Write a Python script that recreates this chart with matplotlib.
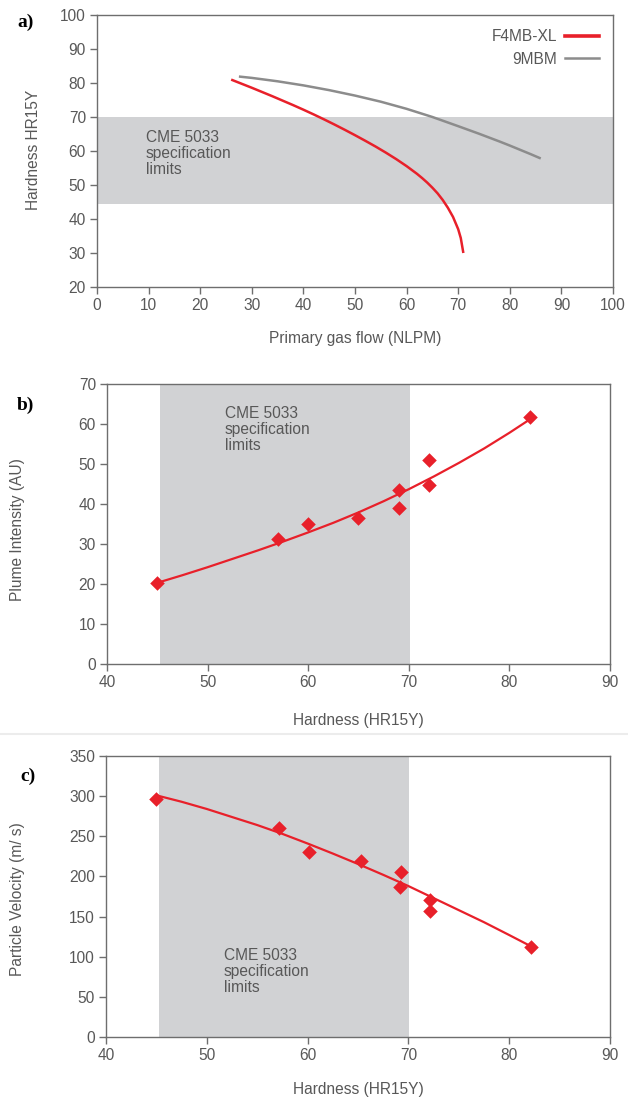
import matplotlib
matplotlib.use("Agg")
import matplotlib.pyplot as plt
from matplotlib.lines import Line2D

plt.rcParams['font.family'] = ['Liberation Sans', 'DejaVu Sans']

# Panel a data
f4_flow = [26, 28, 30, 32, 34, 36, 38, 40, 42, 44, 46, 48, 50, 52, 54, 56, 58,
           60, 62, 63, 64, 65, 66, 67, 68, 69, 70, 70.5, 71]
f4_hard = [81.0, 79.8, 78.6, 77.35, 76.1, 74.8, 73.5, 72.15, 70.75, 69.3, 67.8,
           66.25, 64.65, 63.0, 61.3, 59.5, 57.6, 55.55, 53.3, 52.05, 50.7, 49.2,
           47.55, 45.6, 43.3, 40.6, 37.0, 34.4, 30.0]
m9_flow = [27.5, 30, 35, 40, 45, 50, 55, 60, 65, 70, 72, 74, 76, 78, 80, 82,
           84, 86]
m9_hard = [81.9, 81.5, 80.5, 79.3, 77.9, 76.3, 74.5, 72.4, 70.0, 67.3, 66.2,
           65.1, 63.95, 62.8, 61.6, 60.35, 59.1, 57.8]
band_a = (44.3, 70)

# Panel b data
b_x = [45, 57, 60, 65, 69, 69, 72, 72, 82]
b_y = [20.2, 31.2, 35, 36.4, 43.6, 38.9, 51, 44.8, 61.7]
b_fit_x = [45, 47.5, 50, 52.5, 55, 57.5, 60, 62.5, 65, 67.5, 70, 72.5, 75,
           77.5, 80, 82]
b_fit_y = [20.3, 22.2, 24.2, 26.3, 28.4, 30.6, 32.9, 35.3, 37.9, 40.7, 43.7,
           46.9, 50.3, 53.9, 57.8, 61.1]

# Panel c data
c_x = [45, 57.2, 60.1, 65.3, 69.2, 69.3, 72.1, 72.1, 82.2]
c_y = [296, 260, 231, 219, 187, 206, 171, 157, 112]
c_fit_x = [45, 47.5, 50, 52.5, 55, 57.5, 60, 62.5, 65, 67.5, 70, 72.5, 75,
           77.5, 80, 82]
c_fit_y = [301, 293, 284, 274, 264, 253, 241, 228.5, 215.5, 202, 188, 173,
           158, 143, 127, 114]
band_bc = (45.3, 70.1)

spec_text = "CME 5033\nspecification\nlimits"
RED = '#e8202a'
GRAY_LINE = '#8c8c8c'
BAND = '#d1d2d4'
TXT = '#585858'
SPINE = '#6e6e6e'
FS = 11.2

fig = plt.figure(figsize=(6.28, 10.99), dpi=100)
W, H = 628, 1099

def add_ax(l, t, r, b):
    return fig.add_axes([l / W, 1 - b / H, (r - l) / W, (b - t) / H])

def style(ax):
    for s in ax.spines.values():
        s.set_color(SPINE)
        s.set_linewidth(1.0)
    ax.tick_params(direction='out', length=5, width=1, color=SPINE,
                   labelcolor=TXT, labelsize=FS, pad=3)

# ---- panel a
axa = add_ax(97, 15, 613, 287)
style(axa)
axa.axhspan(band_a[0], band_a[1], color=BAND, lw=0, zorder=0)
axa.plot(f4_flow, f4_hard, color=RED, lw=1.8, solid_capstyle='butt')
axa.plot(m9_flow, m9_hard, color=GRAY_LINE, lw=1.8, solid_capstyle='butt')
axa.set_xlim(0, 100)
axa.set_ylim(20, 100)
axa.set_xticks(range(0, 101, 10))
axa.set_yticks(range(20, 101, 10))
axa.set_xlabel("Primary gas flow (NLPM)", color=TXT, fontsize=FS)
axa.set_ylabel("Hardness HR15Y", color=TXT, fontsize=FS)
axa.xaxis.set_label_coords(0.501, -0.162)
axa.yaxis.set_label_coords(-0.109, 0.504)
axa.text(9.5, 66.3, spec_text, color=TXT, fontsize=FS, va='top', ha='left',
         linespacing=1.1)
handles = [Line2D([], [], color=RED, lw=2.6), Line2D([], [], color=GRAY_LINE, lw=1.8)]
axa.legend(handles, ["F4MB-XL", "9MBM"], loc='upper right', frameon=False,
           markerfirst=False, fontsize=FS, labelcolor=TXT, handlelength=2.2,
           borderaxespad=0.5, labelspacing=0.5, handletextpad=0.5)
fig.text(17 / W, 1 - 22 / H, "a)", family='Liberation Serif', weight='bold',
         fontsize=14, va='center', ha='left')

# ---- panel b
axb = add_ax(107, 384, 610, 664)
style(axb)
axb.axvspan(band_bc[0], band_bc[1], color=BAND, lw=0, zorder=0)
axb.plot(b_fit_x, b_fit_y, color=RED, lw=1.6, zorder=2)
axb.scatter(b_x, b_y, marker='D', s=55, color=RED, zorder=3, lw=0)
axb.set_xlim(40, 90)
axb.set_ylim(0, 70)
axb.set_xticks(range(40, 91, 10))
axb.set_yticks(range(0, 71, 10))
axb.set_xlabel("Hardness (HR15Y)", color=TXT, fontsize=FS)
axb.set_ylabel("Plume Intensity (AU)", color=TXT, fontsize=FS)
axb.xaxis.set_label_coords(0.5, -0.175)
axb.yaxis.set_label_coords(-0.163, 0.48)
axb.text(51.7, 64.6, spec_text, color=TXT, fontsize=FS, va='top', ha='left',
         linespacing=1.1)
fig.text(17 / W, 1 - 405 / H, "b)", family='Liberation Serif', weight='bold',
         fontsize=14, va='center', ha='left')

# separator
fig.add_artist(Line2D([0, 1], [1 - 734 / H, 1 - 734 / H], color='#ececec', lw=1.5))

# ---- panel c
axc = add_ax(106, 756, 610, 1037)
style(axc)
axc.axvspan(band_bc[0], band_bc[1], color=BAND, lw=0, zorder=0)
axc.plot(c_fit_x, c_fit_y, color=RED, lw=1.6, zorder=2)
axc.scatter(c_x, c_y, marker='D', s=55, color=RED, zorder=3, lw=0)
axc.set_xlim(40, 90)
axc.set_ylim(0, 350)
axc.set_xticks(range(40, 91, 10))
axc.set_yticks(range(0, 351, 50))
axc.set_xlabel("Hardness (HR15Y)", color=TXT, fontsize=FS)
axc.set_ylabel("Particle Velocity (m/ s)", color=TXT, fontsize=FS)
axc.xaxis.set_label_coords(0.5, -0.160)
axc.yaxis.set_label_coords(-0.161, 0.49)
axc.text(51.7, 111, spec_text, color=TXT, fontsize=FS, va='top', ha='left',
         linespacing=1.1)
fig.text(20 / W, 1 - 776 / H, "c)", family='Liberation Serif', weight='bold',
         fontsize=14, va='center', ha='left')

fig.savefig("out.png", dpi=100)
